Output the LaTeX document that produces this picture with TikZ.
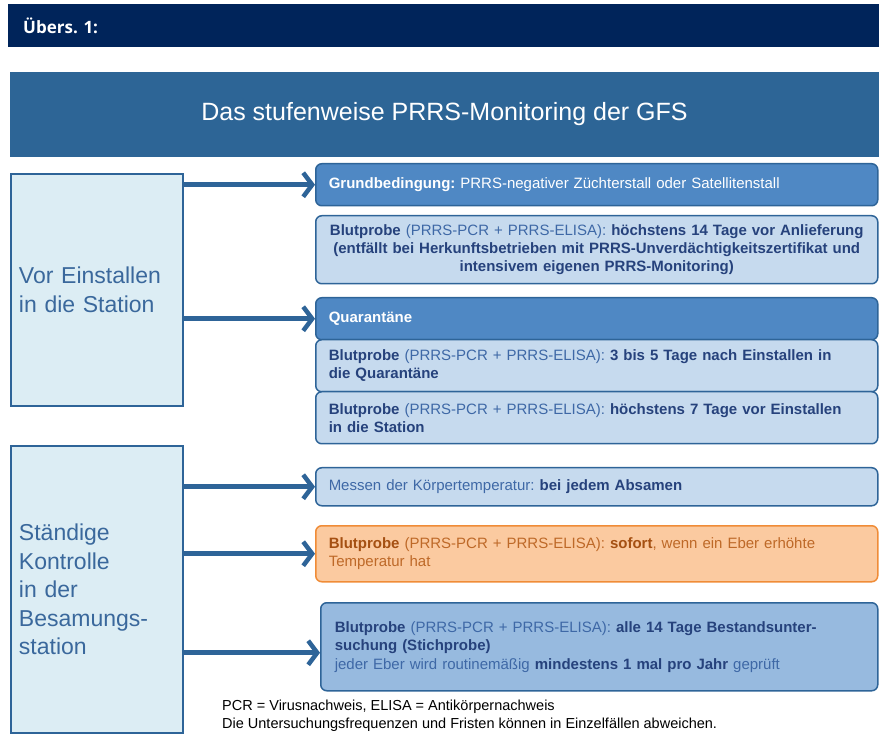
\documentclass[tikz,border=0pt]{standalone}
\usepackage{fontspec}
\setmainfont{Liberation Sans}
\newfontfamily\hdrfont{Open Sans}
\usetikzlibrary{arrows.meta}
\frenchspacing
\definecolor{navy}{RGB}{0,36,90}
\definecolor{titleblue}{RGB}{45,101,150}
\definecolor{frameblue}{RGB}{46,100,152}
\definecolor{stagefill}{RGB}{220,237,244}
\definecolor{headfill}{RGB}{79,136,196}
\definecolor{lightfill}{RGB}{198,218,238}
\definecolor{midfill}{RGB}{151,186,223}
\definecolor{orangefill}{RGB}{251,202,160}
\definecolor{orangeline}{RGB}{240,140,55}
\definecolor{txtdark}{RGB}{38,66,124}
\definecolor{txtmid}{RGB}{62,104,166}
\definecolor{txtorange}{RGB}{190,105,40}
\definecolor{txtorangedark}{RGB}{165,80,18}
\definecolor{stagetxt}{RGB}{58,104,156}
\newcommand{\bfx}[1]{\textbf{\color{txtdark}#1}}
\newcommand{\bfo}[1]{\textbf{\color{txtorangedark}#1}}
\tikzset{
      stage/.style={draw=frameblue, line width=2pt, fill=stagefill, anchor=north west,
            text width=156pt, inner xsep=8pt, minimum height=#1, align=left,
            text=stagetxt, font=\fontsize{23}{28.5}\selectfont},
      rbox/.style={rounded corners=6pt, line width=1.5pt, anchor=north west,
            minimum height=#1, text width=536pt, inner xsep=13pt, inner ysep=0pt,
            align=left, font=\fontsize{15}{18}\selectfont},
      headbox/.style={rbox=#1, draw=frameblue, fill=headfill, text=white},
      infobox/.style={rbox=#1, draw=frameblue, fill=lightfill, text=txtmid},
      alarmbox/.style={rbox=#1, draw=orangeline, fill=orangefill, text=txtorange},
      flow/.style={draw=frameblue, line width=5pt,
            -{Straight Barb[length=9pt,width=24pt,line width=4.5pt]}},
}
\begin{document}
\begin{tikzpicture}[x=1pt,y=-1pt]
        \useasboundingbox (0,0) rectangle (879,735);

        % header bars
        \node[fill=navy, anchor=north west, minimum width=871pt, minimum height=43pt,
              text width=841pt, inner xsep=15pt, align=left, text=white,
              font=\hdrfont\bfseries\fontsize{17}{20}\selectfont] (hdr) at (8,4) {Übers. 1:};
        \node[fill=titleblue, minimum width=869pt, minimum height=85pt, text=white,
              font=\fontsize{25}{29}\selectfont] (title) at (444.5,114.5)
              {Das stufenweise PRRS-Monitoring der GFS};

        % phases
        \node[stage=232pt] (vor) at (10,173) {Vor Einstallen\\in die Station};
        \node[stage=287pt] (kontrolle) at (10,445)
              {Ständige\\Kontrolle\\in der\\Besamungs-\\station};

        % measures
        \node[headbox=42pt] (grund) at (315,163)
              {\textbf{Grundbedingung:} PRRS-negativer Züchterstall oder Satellitenstall};
        \node[infobox=68pt, align=center] (anlief) at (315,215)
              {\bfx{Blutprobe} (PRRS-PCR + PRRS-ELISA): \bfx{höchstens 14 Tage vor Anlieferung}\\
               \bfx{(entfällt bei Herkunftsbetrieben mit PRRS-Unverdächtigkeitszertifikat und}\\
               \bfx{intensivem eigenen PRRS-Monitoring)}};
        \node[headbox=42pt] (quar) at (315,297) {\textbf{Quarantäne}};
        \node[infobox=52pt] (quartest) at (315,339)
              {\bfx{Blutprobe} (PRRS-PCR + PRRS-ELISA): \bfx{3 bis 5 Tage nach Einstallen in}\\
               \bfx{die Quarantäne}};
        \node[infobox=52pt] (stattest) at (315,391)
              {\bfx{Blutprobe} (PRRS-PCR + PRRS-ELISA): \bfx{höchstens 7 Tage vor Einstallen}\\
               \bfx{in die Station}};
        \node[infobox=38pt] (messen) at (315,467)
              {Messen der Körpertemperatur: \bfx{bei jedem Absamen}};
        \node[alarmbox=56pt] (sofort) at (315,525)
              {\bfo{Blutprobe} (PRRS-PCR + PRRS-ELISA): \bfo{sofort}, wenn ein Eber erhöhte\\
               Temperatur hat};
        \node[infobox=88pt, fill=midfill, text width=529pt, inner xsep=14pt] (routine) at (320,602)
              {\bfx{Blutprobe} (PRRS-PCR + PRRS-ELISA): \bfx{alle 14 Tage Bestandsunter-}\\
               \bfx{suchung (Stichprobe)}\\[1pt]
               jeder Eber wird routinemäßig \bfx{mindestens 1 mal pro Jahr} geprüft};

        % arrows
        \draw[flow] (vor.east |- grund.west) -- (grund.west);
        \draw[flow] (vor.east |- quar.west) -- (quar.west);
        \draw[flow] (kontrolle.east |- messen.west) -- (messen.west);
        \draw[flow] (kontrolle.east |- sofort.west) -- (sofort.west);
        \draw[flow] ([yshift=-6pt]kontrolle.east |- routine.west) -- ([yshift=-6pt]routine.west);

        % legend
        \node[anchor=north west, inner sep=0pt, align=left,
              font=\fontsize{14.5}{18}\selectfont] (legend) at (222,700)
              {PCR = Virusnachweis, ELISA = Antikörpernachweis\\
               Die Untersuchungsfrequenzen und Fristen können in Einzelfällen abweichen.};

\end{tikzpicture}
\end{document}
